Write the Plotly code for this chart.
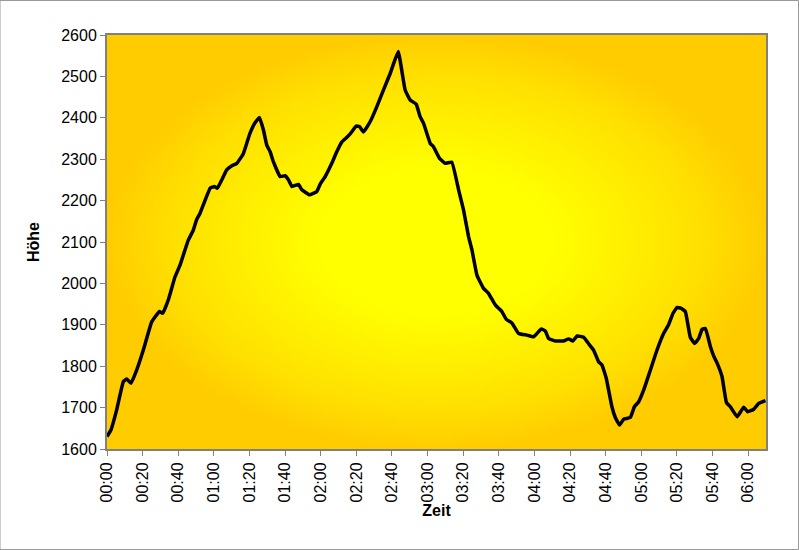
import plotly.graph_objects as go

# elapsed time in minutes
minutes = [0, 2.2, 5.4, 9.2, 11.1, 13.5, 16.7, 20.4, 25.1, 29.4, 31.3, 34.4, 38.2, 41.0, 43.8,
           45.7, 48.5, 50.4, 52.2, 57.9, 60.3, 62.0, 67.2, 70.1, 72.9, 76.6, 80.3, 83.1, 85.6,
           87.8, 89.7, 91.6, 93.4, 97.2, 100.0, 101.9, 103.8, 107.5, 109.4, 113.7, 117.8, 119.7,
           122.5, 126.2, 129.0, 131.9, 134.7, 136.9, 139.9, 141.7, 144.0, 147.8, 151.5, 155.2,
           159.0, 163.5, 167.4, 170.2, 173.6, 175.8, 177.7, 181.5, 183.3, 186.7, 189.9, 193.6,
           197.4, 200.2, 203.0, 204.9, 207.7, 211.4, 214.2, 218.0, 221.7, 224.2, 227.4, 231.1,
           235.8, 239.5, 243.8, 246.1, 247.9, 251.7, 256.3, 259.2, 261.6, 263.9, 267.6, 271.0,
           273.2, 276.0, 277.9, 280.3, 283.5, 285.4, 287.8, 290.1, 293.8, 296.1, 298.5, 301.3,
           305.1, 308.8, 312.5, 315.3, 317.8, 320.1, 322.3, 324.7, 327.5, 330.0, 332.2, 334.1,
           336.0, 338.8, 340.6, 342.5, 345.3, 347.8, 350.0, 353.8, 357.5, 359.7, 363.1, 365.9,
           369.7]
hoehe = [1630, 1646, 1694, 1763, 1769, 1759, 1791, 1839, 1907, 1932, 1928, 1960, 2016, 2044, 2081,
         2105, 2129, 2155, 2169, 2230, 2234, 2230, 2274, 2284, 2290, 2314, 2363, 2388, 2401,
         2371, 2334, 2318, 2294, 2258, 2260, 2250, 2234, 2239, 2226, 2214, 2222, 2240,
         2258, 2290, 2318, 2342, 2353, 2363, 2380, 2379, 2366, 2391, 2427, 2467,
         2507, 2560, 2467, 2443, 2433, 2403, 2387, 2338, 2330, 2302, 2290, 2293,
         2226, 2177, 2113, 2081, 2020, 1988, 1976, 1948, 1932, 1913, 1904, 1879,
         1875, 1871, 1890, 1885, 1867, 1861, 1861, 1866, 1861, 1873, 1870, 1851,
         1839, 1811, 1803, 1771, 1702, 1676, 1658, 1672, 1676, 1702, 1714, 1742,
         1791, 1839, 1879, 1900, 1928, 1942, 1940, 1932, 1870, 1855, 1867, 1889,
         1891, 1847, 1825, 1808, 1775, 1712, 1702, 1678, 1701, 1690, 1696, 1710,
         1717]

tick_minutes = [0, 20, 40, 60, 80, 100, 120, 140, 160, 180, 200, 220, 240, 260, 280, 300, 320, 340, 360]
tick_labels = ["00:00", "00:20", "00:40", "01:00", "01:20", "01:40", "02:00", "02:20", "02:40",
               "03:00", "03:20", "03:40", "04:00", "04:20", "04:40", "05:00", "05:20", "05:40", "06:00"]

x_range = [0, 370]
y_range = [1600, 2600]

fig = go.Figure()

# background gradient panel
fig.add_trace(go.Scatter(
    x=[x_range[0], x_range[1], x_range[1], x_range[0], x_range[0]],
    y=[y_range[0], y_range[0], y_range[1], y_range[1], y_range[0]],
    mode="lines", line=dict(width=0), fill="toself",
    fillgradient=dict(type="radial",
                      colorscale=[[0, "#FFFF00"], [0.35, "#FFFF00"], [0.8, "#FFE000"], [1, "#FFCC00"]]),
    hoverinfo="skip", showlegend=False))

fig.add_trace(go.Scatter(
    x=minutes, y=hoehe, mode="lines",
    line=dict(color="black", width=3.5, shape="spline", smoothing=0.3),
    showlegend=False))

fig.update_layout(
    width=799, height=550,
    margin=dict(l=107, r=33, t=35, b=101),
    paper_bgcolor="white", plot_bgcolor="#FFCC00",
    font=dict(family="Liberation Sans, Arial, sans-serif", size=16, color="black"),
    shapes=[dict(type="rect", xref="paper", yref="paper", x0=-107/659, x1=1 + 32.5/659,
                 y0=-100.5/414, y1=1 + 34.5/414, line=dict(color="#999999", width=1),
                 fillcolor="rgba(0,0,0,0)", layer="below")],
)
fig.update_xaxes(
    range=x_range, tickvals=tick_minutes, ticktext=tick_labels, tickangle=-90,
    showgrid=False, zeroline=False, ticks="outside", ticklen=5, tickcolor="#808080",
    showline=True, linecolor="#808080", linewidth=2, mirror=True,
    title=dict(text="<b>Zeit</b>", standoff=0, font=dict(size=16)))
fig.update_yaxes(
    range=y_range, dtick=100, showgrid=True, gridcolor="rgba(60,50,0,0.55)", gridwidth=1.2,
    zeroline=False, ticks="outside", ticklen=5, tickcolor="#808080",
    showline=True, linecolor="#808080", linewidth=2, mirror=True,
    title=dict(text="<b>Höhe</b>", standoff=18, font=dict(size=16)))

fig.write_html("out.html")
